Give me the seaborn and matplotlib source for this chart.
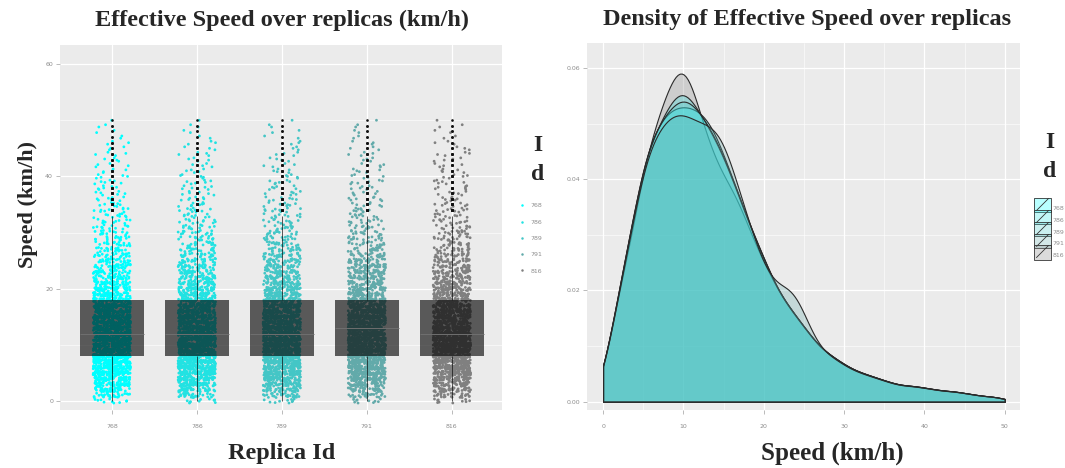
import matplotlib
matplotlib.use("Agg")
import matplotlib.pyplot as plt
import numpy as np
import pandas as pd
import seaborn as sns
from matplotlib.lines import Line2D
from matplotlib.patches import Patch
from matplotlib.legend_handler import HandlerTuple

# replica ids and colours (cyan -> grey ramp)
replicas = ["768", "786", "789", "791", "816"]
colors = ["#00ffff", "#22e2e2", "#44c6c6", "#62aaaa", "#808080"]

# speed values (km/h) and how many records each replica has at that speed
speeds = list(range(0, 51))
counts_768 = [10, 26, 42, 58, 72, 90, 98, 104, 108, 110, 110, 110, 108, 106, 100, 92, 84, 76, 68, 60, 54, 46, 40,
              36, 32, 28, 24, 20, 18, 16, 14, 12, 11, 10, 9, 8, 7, 6, 6, 6, 5, 5, 4, 4, 4, 3, 3, 2, 2, 2, 1]
counts_786 = [10, 26, 42, 58, 72, 90, 98, 104, 110, 116, 118, 114, 108, 104, 98, 92, 84, 76, 68, 60, 54, 46, 40,
              36, 32, 28, 24, 20, 18, 16, 14, 12, 11, 10, 9, 8, 7, 6, 6, 6, 5, 5, 4, 4, 4, 3, 3, 2, 2, 2, 1]
counts_789 = [10, 26, 42, 58, 72, 90, 98, 104, 108, 112, 114, 112, 108, 104, 98, 92, 84, 76, 68, 60, 54, 46, 40,
              36, 32, 28, 24, 20, 18, 16, 14, 12, 11, 10, 9, 8, 7, 6, 6, 6, 5, 5, 4, 4, 4, 3, 3, 2, 2, 2, 1]
counts_791 = [10, 26, 42, 58, 72, 90, 98, 104, 108, 110, 110, 108, 106, 106, 104, 100, 90, 80, 70, 60, 52, 46, 44,
              44, 42, 34, 26, 20, 18, 16, 14, 12, 11, 10, 9, 8, 7, 6, 6, 6, 5, 5, 4, 4, 4, 3, 3, 2, 2, 2, 1]
counts_816 = [10, 26, 42, 54, 68, 88, 98, 108, 116, 124, 128, 120, 108, 98, 90, 84, 80, 74, 66, 58, 52, 46, 40,
              36, 32, 28, 24, 20, 18, 16, 14, 12, 11, 10, 9, 8, 7, 6, 6, 6, 5, 5, 4, 4, 4, 3, 3, 2, 2, 2, 1]

all_counts = [counts_768, counts_786, counts_789, counts_791, counts_816]

frames = []
for rid, cnt in zip(replicas, all_counts):
    v = np.repeat(speeds, cnt).astype(float)
    frames.append(pd.DataFrame({"replica": rid, "speed": v}))
df = pd.concat(frames, ignore_index=True)

# vertical jitter like geom_jitter (display only): spread repeats of a value over +-0.4 km/h
grp = df.groupby(["replica", "speed"])["speed"]
df["shown"] = df["speed"] + ((grp.cumcount() + 0.5) / grp.transform("size") * 0.8 - 0.4)

sns.set_theme(style="darkgrid", rc={"axes.facecolor": "#EBEBEB", "grid.color": "white"})
plt.rcParams["font.family"] = ["DejaVu Sans"]
serif = {"family": "Liberation Serif", "weight": "bold"}
np.random.seed(3)

fig = plt.figure(figsize=(10.65, 4.68), dpi=100)
ax1 = fig.add_axes([60 / 1065, 58 / 468, 442 / 1065, 365 / 468])
ax2 = fig.add_axes([587 / 1065, 58 / 468, 433 / 1065, 367 / 468])

pal = dict(zip(replicas, colors))

# ---- left: jittered points + boxes
sns.stripplot(df, x="replica", y="shown", hue="replica", order=replicas, hue_order=replicas,
              palette=pal, jitter=0.22, size=2.0, linewidth=0, legend=False, ax=ax1, zorder=1)
sns.boxplot(df, x="replica", y="speed", order=replicas, width=0.76, ax=ax1, color="black",
            boxprops=dict(facecolor=(0, 0, 0, 0.62), edgecolor="none"),
            whiskerprops=dict(color="#111111", linewidth=0.5),
            capprops=dict(visible=False),
            medianprops=dict(color="#6f6f6f", linewidth=0.7),
            flierprops=dict(marker="o", markersize=1.9, markerfacecolor="#111111", markeredgecolor="none"))
ax1.set_xlim(-0.61, 4.59)
ax1.set_ylim(-1.6, 63.4)
ax1.set_yticks([0, 20, 40, 60])
ax1.set_yticks([10, 30, 50], minor=True)
ax1.grid(which="major", color="white", linewidth=0.9)
ax1.grid(which="minor", axis="y", color="white", linewidth=0.4)
ax1.set_xlabel("")
ax1.set_ylabel("")

# ---- right: densities; seaborn draws hue levels last-to-first, so 816 goes down first here
draw_order = ["791", "789", "786", "768", "816"]
sns.kdeplot(df, x="speed", hue="replica", hue_order=draw_order, palette=pal, fill=True, alpha=0.28,
            common_norm=False, cut=0, bw_adjust=0.6, edgecolor="#2a2a2a", linewidth=0.8,
            legend=False, ax=ax2)
ax2.set_xlim(-2.0, 51.9)
ax2.set_ylim(-0.0015, 0.0645)
ax2.set_xticks([0, 10, 20, 30, 40, 50])
ax2.set_xticks([5, 15, 25, 35, 45], minor=True)
ax2.set_yticks([0, 0.02, 0.04, 0.06])
ax2.set_yticklabels(["0.00", "0.02", "0.04", "0.06"])
ax2.set_yticks([0.01, 0.03, 0.05], minor=True)
ax2.grid(which="major", color="white", linewidth=0.9)
ax2.grid(which="minor", color="white", linewidth=0.4)
ax2.set_xlabel("")
ax2.set_ylabel("")

for ax in (ax1, ax2):
    for s in ax.spines.values():
        s.set_visible(False)
    ax.tick_params(which="major", labelsize=4.5, labelcolor="#8c8c8c", length=3, width=0.5,
                   color="#a0a0a0", pad=2, bottom=True, left=True)
    ax.tick_params(axis="x", which="major", pad=7)
    ax.tick_params(which="minor", length=0)

# ---- text
fig.text(282 / 1065, 1 - 20 / 468, "Effective Speed over replicas (km/h)", ha="center", va="center",
         fontsize=17.5, **serif)
fig.text(807 / 1065, 1 - 20 / 468, "Density of Effective Speed over replicas", ha="center", va="center",
         fontsize=17.5, **serif)
fig.text(282 / 1065, 1 - 453 / 468, "Replica Id", ha="center", va="center", fontsize=17.5, **serif)
fig.text(832 / 1065, 1 - 453 / 468, "Speed (km/h)", ha="center", va="center", fontsize=18, **serif)
fig.text(28 / 1065, 1 - 205 / 468, "Speed (km/h)", ha="center", va="center", rotation=90,
         fontsize=16, **serif)
fig.text(538 / 1065, 1 - 160 / 468, "I\nd", ha="center", va="center", fontsize=17,
         linespacing=1.5, **serif)
fig.text(1050 / 1065, 1 - 157 / 468, "I\nd", ha="center", va="center", fontsize=17,
         linespacing=1.5, **serif)

# ---- legends
h1 = [Line2D([], [], linestyle="none", marker="o", markersize=1.8, markerfacecolor=c,
             markeredgecolor="none") for c in colors]
leg1 = ax1.legend(h1, replicas, loc="upper left", bbox_to_anchor=(518 / 1065, 1 - 203 / 468),
                  bbox_transform=fig.transFigure, frameon=False, fontsize=4.5, handlelength=1.2,
                  handletextpad=0.8, labelspacing=1.75, borderpad=0, borderaxespad=0)
for t in leg1.get_texts():
    t.set_color("#8c8c8c")

# density keys: tinted square, dark border, one diagonal stroke
h2 = [(Patch(facecolor=c, alpha=0.28, edgecolor="none"),
       Patch(facecolor="none", edgecolor="#333333", linewidth=0.6),
       Line2D([], [], linestyle="none", marker=[(-1, -1), (1, 1)], markersize=9,
              markeredgecolor="#333333", markeredgewidth=0.6)) for c in colors]
leg2 = ax2.legend(h2, replicas, loc="upper left", bbox_to_anchor=(1034 / 1065, 1 - 198 / 468),
                  bbox_transform=fig.transFigure, frameon=False, fontsize=10,
                  handler_map={tuple: HandlerTuple(ndivide=1, pad=0)},
                  handlelength=1.2, handleheight=1.2, handletextpad=0.12, labelspacing=-0.17,
                  borderpad=0, borderaxespad=0)
for t in leg2.get_texts():
    t.set_color("#8c8c8c")
    t.set_fontsize(4.5)

fig.savefig("out.png", dpi=100)
